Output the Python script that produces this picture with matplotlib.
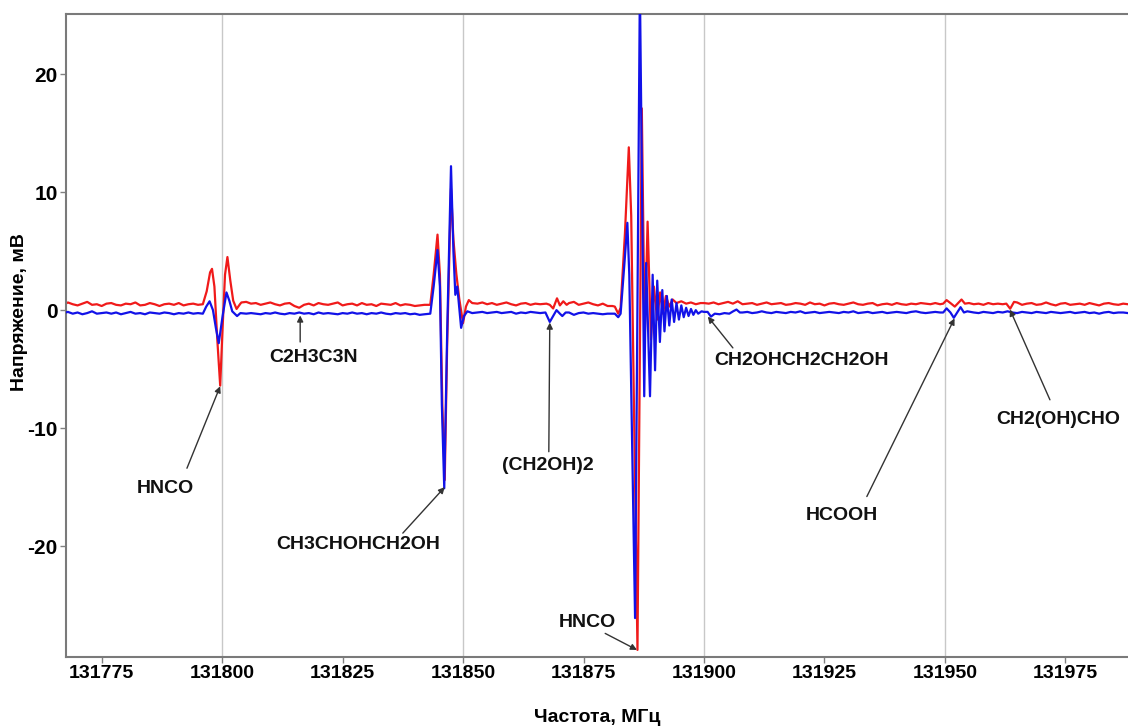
import numpy as np
import matplotlib
matplotlib.use("Agg")
import matplotlib.pyplot as plt
import warnings
warnings.filterwarnings("ignore")

# ---------------- data ----------------
BASE_START = 131767  # baseline samples every 1 MHz

red_base = [
    0.45, 0.65, 0.50, 0.40, 0.55, 0.70, 0.45, 0.50, 0.35, 0.55,
    0.60, 0.45, 0.40, 0.55, 0.50, 0.65, 0.40, 0.45, 0.60, 0.50,
    0.35, 0.50, 0.55, 0.45, 0.60, 0.40, 0.50, 0.55, 0.45, 0.50,
    0.50, 0.50, 0.50, 0.50, 0.50, 0.50, 0.50, 0.65, 0.70, 0.55,
    0.60, 0.45, 0.55, 0.65, 0.50, 0.40, 0.55, 0.60, 0.35, 0.20,
    0.45, 0.55, 0.40, 0.60, 0.50, 0.45, 0.55, 0.65, 0.40, 0.50,
    0.55, 0.40, 0.60, 0.45, 0.50, 0.35, 0.55, 0.50, 0.45, 0.60,
    0.40, 0.50, 0.45, 0.35, 0.40, 0.45, 0.50, 0.50, 0.50, 0.50,
    0.50, 0.50, 0.50, 0.50, 0.50, 0.70, 0.55, 0.65, 0.50, 0.60,
    0.45, 0.55, 0.65, 0.50, 0.40, 0.55, 0.60, 0.45, 0.55, 0.50,
    0.50, 0.50, 0.50, 0.50, 0.50, 0.60, 0.70, 0.45, 0.55, 0.65,
    0.50, 0.40, 0.55, 0.35, 0.35, 0.50, 0.50, 0.50, 0.50, 0.50,
    0.50, 0.50, 0.50, 0.50, 0.50, 0.50, 0.50, 0.50, 0.50, 0.50,
    0.50, 0.50, 0.50, 0.60, 0.55, 0.65, 0.50, 0.60, 0.70, 0.55,
    0.75, 0.50, 0.55, 0.60, 0.45, 0.55, 0.65, 0.50, 0.55, 0.60,
    0.45, 0.50, 0.60, 0.55, 0.45, 0.65, 0.50, 0.55, 0.40, 0.55,
    0.60, 0.50, 0.45, 0.55, 0.65, 0.50, 0.45, 0.55, 0.60, 0.40,
    0.50, 0.55, 0.45, 0.60, 0.50, 0.45, 0.55, 0.50, 0.60, 0.55,
    0.50, 0.60, 0.50, 0.50, 0.50, 0.50, 0.50, 0.50, 0.60, 0.50,
    0.55, 0.45, 0.60, 0.50, 0.55, 0.50, 0.50, 0.50, 0.65, 0.45,
    0.55, 0.60, 0.45, 0.50, 0.65, 0.50, 0.40, 0.55, 0.60, 0.45,
    0.50, 0.55, 0.45, 0.60, 0.50, 0.40, 0.55, 0.60, 0.50, 0.45,
    0.55, 0.50,
]

blue_base = [
    -0.25, -0.15, -0.30, -0.20, -0.35, -0.25, -0.10, -0.30, -0.25, -0.20,
    -0.30, -0.20, -0.35, -0.25, -0.15, -0.30, -0.25, -0.35, -0.20, -0.25,
    -0.30, -0.20, -0.25, -0.35, -0.25, -0.30, -0.20, -0.30, -0.25, -0.30,
    -0.30, -0.30, -0.30, -0.30, -0.30, -0.30, -0.30, -0.20, -0.30, -0.25,
    -0.30, -0.35, -0.25, -0.30, -0.20, -0.30, -0.35, -0.25, -0.30, -0.20,
    -0.30, -0.25, -0.35, -0.20, -0.30, -0.25, -0.30, -0.35, -0.25, -0.30,
    -0.20, -0.30, -0.25, -0.35, -0.25, -0.30, -0.20, -0.30, -0.35, -0.25,
    -0.30, -0.25, -0.35, -0.30, -0.40, -0.35, -0.30, -0.30, -0.30, -0.30,
    -0.30, -0.30, -0.30, -0.30, -0.30, -0.10, -0.20, -0.15, -0.25, -0.20,
    -0.15, -0.25, -0.20, -0.15, -0.30, -0.20, -0.25, -0.15, -0.20, -0.25,
    -0.30, -0.30, -0.30, -0.30, -0.30, -0.20, -0.40, -0.25, -0.20, -0.30,
    -0.25, -0.30, -0.35, -0.30, -0.30, -0.30, -0.30, -0.30, -0.30, -0.30,
    -0.30, -0.30, -0.30, -0.30, -0.30, -0.30, -0.30, -0.30, -0.30, -0.30,
    -0.30, -0.30, -0.30, -0.15, -0.30, -0.30, -0.30, -0.30, -0.30, -0.30,
    -0.30, -0.20, -0.15, -0.25, -0.20, -0.10, -0.20, -0.25, -0.15, -0.20,
    -0.25, -0.15, -0.20, -0.10, -0.25, -0.20, -0.15, -0.25, -0.20, -0.15,
    -0.20, -0.25, -0.15, -0.20, -0.10, -0.25, -0.20, -0.15, -0.25, -0.20,
    -0.15, -0.25, -0.20, -0.15, -0.20, -0.25, -0.15, -0.10, -0.20, -0.25,
    -0.20, -0.15, -0.20, -0.20, -0.20, -0.20, -0.20, -0.20, -0.15, -0.20,
    -0.25, -0.15, -0.20, -0.25, -0.15, -0.20, -0.10, -0.20, -0.25, -0.15,
    -0.20, -0.25, -0.15, -0.20, -0.25, -0.15, -0.20, -0.25, -0.20, -0.15,
    -0.25, -0.20, -0.15, -0.25, -0.20, -0.30, -0.20, -0.15, -0.25, -0.20,
    -0.20, -0.25,
]

# absorption-line features (frequency, MHz ; voltage, mV)
red_feat_freq = [
    131796.0, 131796.8, 131797.5, 131797.9, 131798.4, 131799.0, 131799.6,
    131800.1, 131800.6, 131801.1, 131801.7, 131802.3, 131803.0, 131803.7,
    131843.2, 131843.9, 131844.7, 131845.2, 131845.7, 131846.2, 131846.7,
    131847.5, 131848.0, 131848.6, 131849.2, 131850.0, 131850.6, 131851.2,
    131851.9,
    131867.3, 131868.0, 131868.7, 131869.5, 131870.1, 131870.8, 131871.5,
    131881.5, 131882.2, 131882.7, 131883.6, 131884.4, 131884.9, 131886.2,
    131887.1, 131887.7, 131888.3, 131889.0, 131889.6, 131890.3, 131890.9,
    131891.5, 131892.1, 131892.8, 131893.5, 131894.3, 131895.3, 131896.3,
    131897.3, 131898.3, 131899.3,
    131949.65, 131950.35, 131951.15, 131952.05, 131952.75, 131953.45, 131954.15,
    131962.75, 131963.55, 131964.35,
]
red_feat_mv = [
    0.5, 1.6, 3.2, 3.5, 2.0, -2.5, -6.4,
    -1.5, 3.0, 4.5, 2.5, 0.8, 0.1, 0.5,
    0.45, 3.0, 6.4, 3.0, -8.0, -14.4, -3.0,
    10.3, 6.0, 3.1, 1.0, -1.1, 0.3, 0.85,
    0.6,
    0.55, 0.45, 0.14, 1.0, 0.4, 0.75, 0.45,
    0.3, -0.3, 0.2, 6.5, 13.8, 8.0, -28.8,
    17.1, -2.5, 7.5, -2.5, 2.0, -0.8, 1.5,
    -0.3, 1.2, 0.3, 0.9, 0.6, 0.75, 0.55,
    0.65, 0.5, 0.6,
    0.55, 0.85, 0.6, 0.3, 0.6, 0.9, 0.55,
    0.55, 0.12, 0.7,
]
red_windows = [(131795.5, 131804.0), (131842.9, 131852.2), (131866.8, 131871.8),
               (131881.3, 131899.8), (131949.1, 131954.6), (131962.1, 131964.8)]

blue_feat_freq = [
    131796.0, 131796.7, 131797.4, 131798.1, 131798.7, 131799.3, 131800.1,
    131800.9, 131801.5, 131802.1, 131803.1, 131803.8,
    131843.2, 131843.9, 131844.7, 131845.2, 131845.6, 131846.1, 131846.7,
    131847.5, 131848.0, 131848.4, 131848.8, 131849.6, 131850.2, 131850.9,
    131851.9,
    131867.1, 131868.0, 131868.7, 131869.4, 131870.1, 131870.6, 131871.3,
    131881.5, 131882.2, 131882.7, 131883.5, 131884.1, 131884.5, 131885.7,
    131886.7, 131887.6, 131888.0, 131888.8, 131889.35, 131889.85, 131890.3,
    131890.85, 131891.35, 131891.8, 131892.3, 131892.8, 131893.3, 131893.8,
    131894.3, 131894.8, 131895.3, 131895.8, 131896.3, 131896.8, 131897.3,
    131897.8, 131898.3, 131898.8, 131899.5,
    131900.75, 131901.45, 131902.25, 131903.25, 131904.25, 131905.25, 131906.05,
    131906.75, 131907.45,
    131949.65, 131950.35, 131951.15, 131951.85, 131952.55, 131953.25, 131953.95,
    131954.65,
]
blue_feat_mv = [
    -0.3, 0.3, 0.75, 0.0, -1.5, -2.8, -0.5,
    1.5, 0.8, -0.1, -0.5, -0.25,
    -0.3, 2.0, 5.1, 2.0, -8.0, -15.1, -2.0,
    12.2, 5.0, 1.3, 2.0, -1.5, -0.5, -0.1,
    -0.25,
    -0.2, -1.0, -0.5, 0.0, -0.3, -0.5, -0.2,
    -0.3, -0.6, -0.3, 4.0, 7.4, 3.0, -26.1,
    27.5, -7.3, 4.0, -7.3, 3.0, -5.1, 2.5,
    -2.7, 1.7, -1.8, 1.2, -1.3, 0.9, -1.0,
    0.6, -0.8, 0.4, -0.6, 0.2, -0.5, 0.1,
    -0.4, 0.0, -0.3, -0.1,
    -0.15, -0.55, -0.3, -0.35, -0.25, -0.3, -0.1,
    0.05, -0.2,
    -0.2, 0.15, -0.2, -0.65, -0.2, 0.25, -0.2,
    -0.1,
]
blue_windows = [(131795.5, 131804.2), (131842.9, 131852.2), (131866.8, 131871.6),
                (131881.3, 131899.9), (131900.4, 131907.8), (131949.1, 131955.1)]

x_ticks = [131775, 131800, 131825, 131850, 131875, 131900, 131925, 131950, 131975]
x_grid = [131800, 131850, 131900, 131950]
y_ticks = [-20, -10, 0, 10, 20]

# label text, text position, arrow start, arrow target
annotations = [
    ("HNCO",          (131788.2, -15.1), (131792.7, -13.4), (131799.6, -6.45)),
    ("C2H3C3N",       (131818.9, -4.0),  (131816.2, -2.7),  (131816.2, -0.45)),
    ("CH3CHOHCH2OH",  (131828.2, -19.9), (131837.5, -18.9), (131846.2, -15.0)),
    ("(CH2OH)2",      (131867.6, -13.2), (131867.8, -12.0), (131868.0, -1.05)),
    ("HNCO",          (131875.7, -26.5), (131879.5, -27.4), (131886.1, -28.8)),
    ("CH2OHCH2CH2OH", (131920.3, -4.25), (131906.0, -3.2),  (131900.8, -0.55)),
    ("HCOOH",         (131928.6, -17.4), (131933.8, -15.8), (131952.0, -0.7)),
    ("CH2(OH)CHO",    (131973.6, -9.3),  (131971.8, -7.6),  (131963.5, 0.05)),
]


def merge(base, ff, fv, windows):
    bf = BASE_START + np.arange(len(base), dtype=float)
    bv = np.asarray(base, dtype=float)
    keep = np.ones(len(bf), dtype=bool)
    for a, b in windows:
        keep &= ~((bf > a) & (bf < b))
    f = np.concatenate([bf[keep], np.asarray(ff, float)])
    v = np.concatenate([bv[keep], np.asarray(fv, float)])
    o = np.argsort(f, kind="stable")
    return f[o], v[o]


red_f, red_v = merge(red_base, red_feat_freq, red_feat_mv, red_windows)
blue_f, blue_v = merge(blue_base, blue_feat_freq, blue_feat_mv, blue_windows)

# ---------------- plot ----------------
W, H = 1128, 727
fig = plt.figure(figsize=(W / 100, H / 100), dpi=100)
ax = fig.add_axes([66 / W, 1 - 657 / H, (W - 66) / W, (657 - 14) / H])

for g in x_grid:
    ax.axvline(g, color="#c8c8c8", lw=1.0, zorder=0)

ax.plot(red_f, red_v, color="#f01a1a", lw=1.6, zorder=2)
ax.plot(blue_f, blue_v, color="#1212e8", lw=1.6, zorder=3)

ax.set_xlim(131767.6, 131988)
ax.set_ylim(-29.4, 25.1)

ax.set_xticks(x_ticks)
ax.set_xticklabels([str(t) for t in x_ticks])
ax.set_yticks(y_ticks)
ax.set_yticklabels([str(t) for t in y_ticks])

sans = ["Liberation Sans", "DejaVu Sans"]
for lab in ax.get_xticklabels():
    lab.set_fontfamily(sans)
    lab.set_fontweight("bold")
    lab.set_fontsize(14)
for lab in ax.get_yticklabels():
    lab.set_fontfamily(sans)
    lab.set_fontweight("bold")
    lab.set_fontsize(15)

ax.tick_params(axis="both", direction="out", length=4, width=1, color="#808080")
ax.tick_params(axis="x", pad=2)
ax.tick_params(axis="y", pad=2)

for s in ["left", "bottom", "top"]:
    ax.spines[s].set_color("#7a7a7a")
    ax.spines[s].set_linewidth(1.5)
ax.spines["right"].set_visible(False)

fig.text(20 / W, 1 - 312 / H, "Напряжение, мВ", rotation=90, ha="center", va="center",
         fontsize=14, fontweight="bold", family=sans)
fig.text(597 / W, 1 - 717 / H, "Частота, МГц", ha="center", va="center",
         fontsize=14, fontweight="bold", family=sans)

for text, tpos, apos, target in annotations:
    ax.text(tpos[0], tpos[1], text, ha="center", va="center", fontsize=14,
            fontweight="bold", family=sans, color="#111111", zorder=5)
    ax.annotate("", xy=target, xytext=apos,
                arrowprops=dict(arrowstyle="-|>", color="#333333", lw=1.0,
                                mutation_scale=9, shrinkA=0, shrinkB=0),
                zorder=4)

fig.savefig("out.png", dpi=100)
